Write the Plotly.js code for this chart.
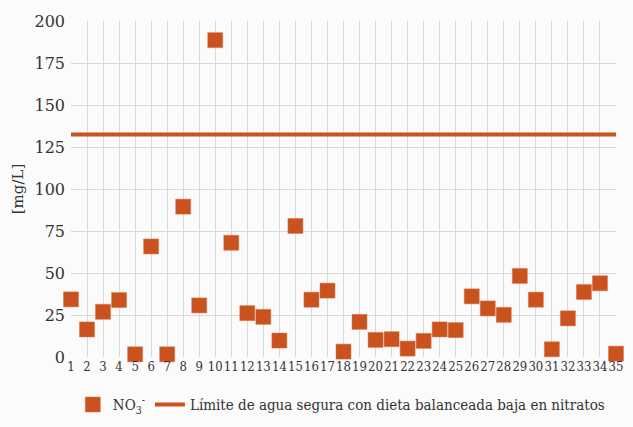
<!DOCTYPE html>
<html>
<head>
<meta charset="utf-8">
<script src="https://cdn.plot.ly/plotly-3.0.1.min.js"></script>
<style>html,body{margin:0;padding:0;background:#fbfbfb;}#chart{width:633px;height:427px;}</style>
</head>
<body>
<div id="chart"></div>
<script>
const samples = [1,2,3,4,5,6,7,8,9,10,11,12,13,14,15,16,17,18,19,20,21,22,23,24,25,26,27,28,29,30,31,32,33,34,35];
const nitrate = [34.3,16.4,26.9,33.9,1.6,65.8,1.6,89.5,30.7,188.6,68,26.1,23.9,9.8,78,34.1,39.5,3.2,20.9,10.2,10.6,5,9.6,16.4,16,36.1,28.9,25.1,48.3,34.1,4.6,23,38.7,43.9,2];
const limitValue = 132.5;
const limitX = [1, 35];
const limitY = [limitValue, limitValue];
const yTicks = [0,25,50,75,100,125,150,175,200];

const orange = '#c9521f';
const serif = 'DejaVu Serif';
const serifCond = 'DejaVu Serif Condensed, DejaVu Serif';
const traces = [
  {x: samples, y: nitrate, type: 'scatter', mode: 'markers', name: 'NO<sub>3</sub><sup>-</sup>',
   cliponaxis: false,
   marker: {symbol: 'square', size: 15, color: orange, line: {color: '#d9703f', width: 0.5}}},
  {x: limitX, y: limitY, type: 'scatter', mode: 'lines',
   name: 'Límite de agua segura con dieta balanceada baja en nitratos',
   line: {color: orange, width: 4}}
];
const layout = {
  width: 633, height: 427,
  paper_bgcolor: '#fbfbfb', plot_bgcolor: '#fbfbfb',
  margin: {l: 71, r: 17, t: 21, b: 70},
  font: {family: serif, color: '#333'},
  showlegend: true,
  legend: {orientation: 'h', x: 0.54, xanchor: 'center', xref: 'container', yref: 'container', y: 0.052, yanchor: 'middle',
           font: {family: serifCond, size: 15, color: '#333'}, bgcolor: 'rgba(0,0,0,0)', itemwidth: 30, tracegroupgap: 0},
  xaxis: {range: [1, 35], tickmode: 'array', tickvals: samples, ticktext: samples.map(String),
          showgrid: true, gridcolor: '#d9d9d9', gridwidth: 1, zeroline: false, automargin: false,
          showline: false, ticks: '', tickangle: 0, tickfont: {family: serifCond, size: 13, color: '#333'}, fixedrange: true},
  yaxis: {range: [0, 200], tickmode: 'array', tickvals: yTicks, ticktext: yTicks.map(String),
          showgrid: true, gridcolor: '#d9d9d9', gridwidth: 1, zeroline: false, automargin: false,
          showline: false, ticks: '', ticklabelstandoff: 5,
          tickfont: {family: serif, size: 16, color: '#333'},
          title: {text: '[mg/L]', font: {family: serif, size: 15, color: '#333'}, standoff: 7}, fixedrange: true}
};
Plotly.newPlot('chart', traces, layout, {displayModeBar: false, staticPlot: true});
</script>
</body>
</html>
